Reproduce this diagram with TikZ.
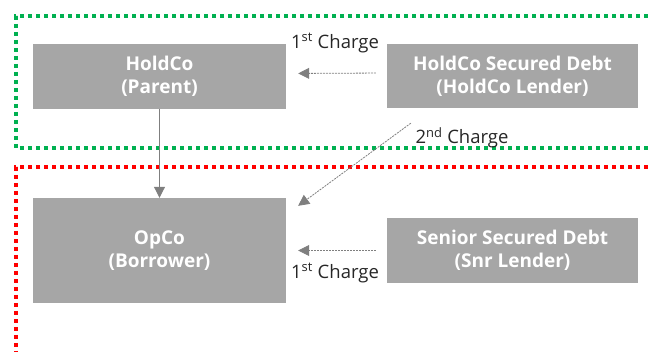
\documentclass[tikz,border=0pt]{standalone}
\usepackage{fontspec}
\setmainfont{Open Sans}
\usetikzlibrary{calc,arrows.meta}
\definecolor{boxgray}{HTML}{A6A6A6}
\definecolor{linegray}{HTML}{7F7F7F}
\definecolor{labeltext}{HTML}{262626}
\definecolor{zonegreen}{HTML}{00B050}
\definecolor{zonered}{HTML}{FF0000}
\tikzset{
  entity/.style={fill=boxgray, draw=none, inner sep=0pt, text=white,
    font=\fontsize{19}{23}\selectfont\bfseries, align=center},
  zone/.style={line width=3.5pt, dash pattern=on 4pt off 4pt},
  ownership/.style={draw=linegray, line width=1pt,
    -{Triangle[length=11pt,width=11pt]}},
  charge/.style={draw=linegray, line width=0.8pt, dash pattern=on 2pt off 1pt,
    -{Triangle[length=11pt,width=11pt,fill=linegray]}},
  chargelabel/.style={text=labeltext, font=\fontsize{18.5}{22}\selectfont, inner sep=0pt}
}
\begin{document}
\begin{tikzpicture}[x=1pt,y=-1pt]
\useasboundingbox (0,0) rectangle (648,352);

% security zones
\draw[zone, draw=zonegreen] (648,16) -- (16,16) -- (16,148) -- (648,148);
\draw[zone, draw=zonered] (648,167) -- (16,167) -- (16,352);

% entities
\node[entity, minimum width=253pt, minimum height=65pt] (holdco) at (159.5,76.5) {HoldCo\\(Parent)};
\node[entity, minimum width=251pt, minimum height=64pt] (hsd) at (512.5,76) {HoldCo Secured Debt\\(HoldCo Lender)};
\node[entity, minimum width=253pt, minimum height=105pt] (opco) at (159.5,250.5) {OpCo\\(Borrower)};
\node[entity, minimum width=251pt, minimum height=65pt] (ssd) at (512.5,250.5) {Senior Secured Debt\\(Snr Lender)};

% ownership
\draw[ownership] (holdco.south) -- (opco.north);

% charges
\draw[charge, shorten <=11pt, shorten >=12pt] ([yshift=3pt]hsd.west) -- ([yshift=3pt]holdco.east);
\coordinate (second start) at ($(hsd.south west)+(24,15)$);
\coordinate (second end) at ($(opco.north east)+(12,8)$);
\draw[charge] (second start) -- (second end);
\draw[charge, shorten <=11pt, shorten >=12pt] (ssd.west) -- (opco.east);

% charge labels
\node[chargelabel] (lbl1) at (335,43) {1\textsuperscript{st} Charge};
\node[chargelabel] (lbl2) at (462,138) {2\textsuperscript{nd} Charge};
\node[chargelabel] (lbl3) at (335,273) {1\textsuperscript{st} Charge};
\end{tikzpicture}
\end{document}
